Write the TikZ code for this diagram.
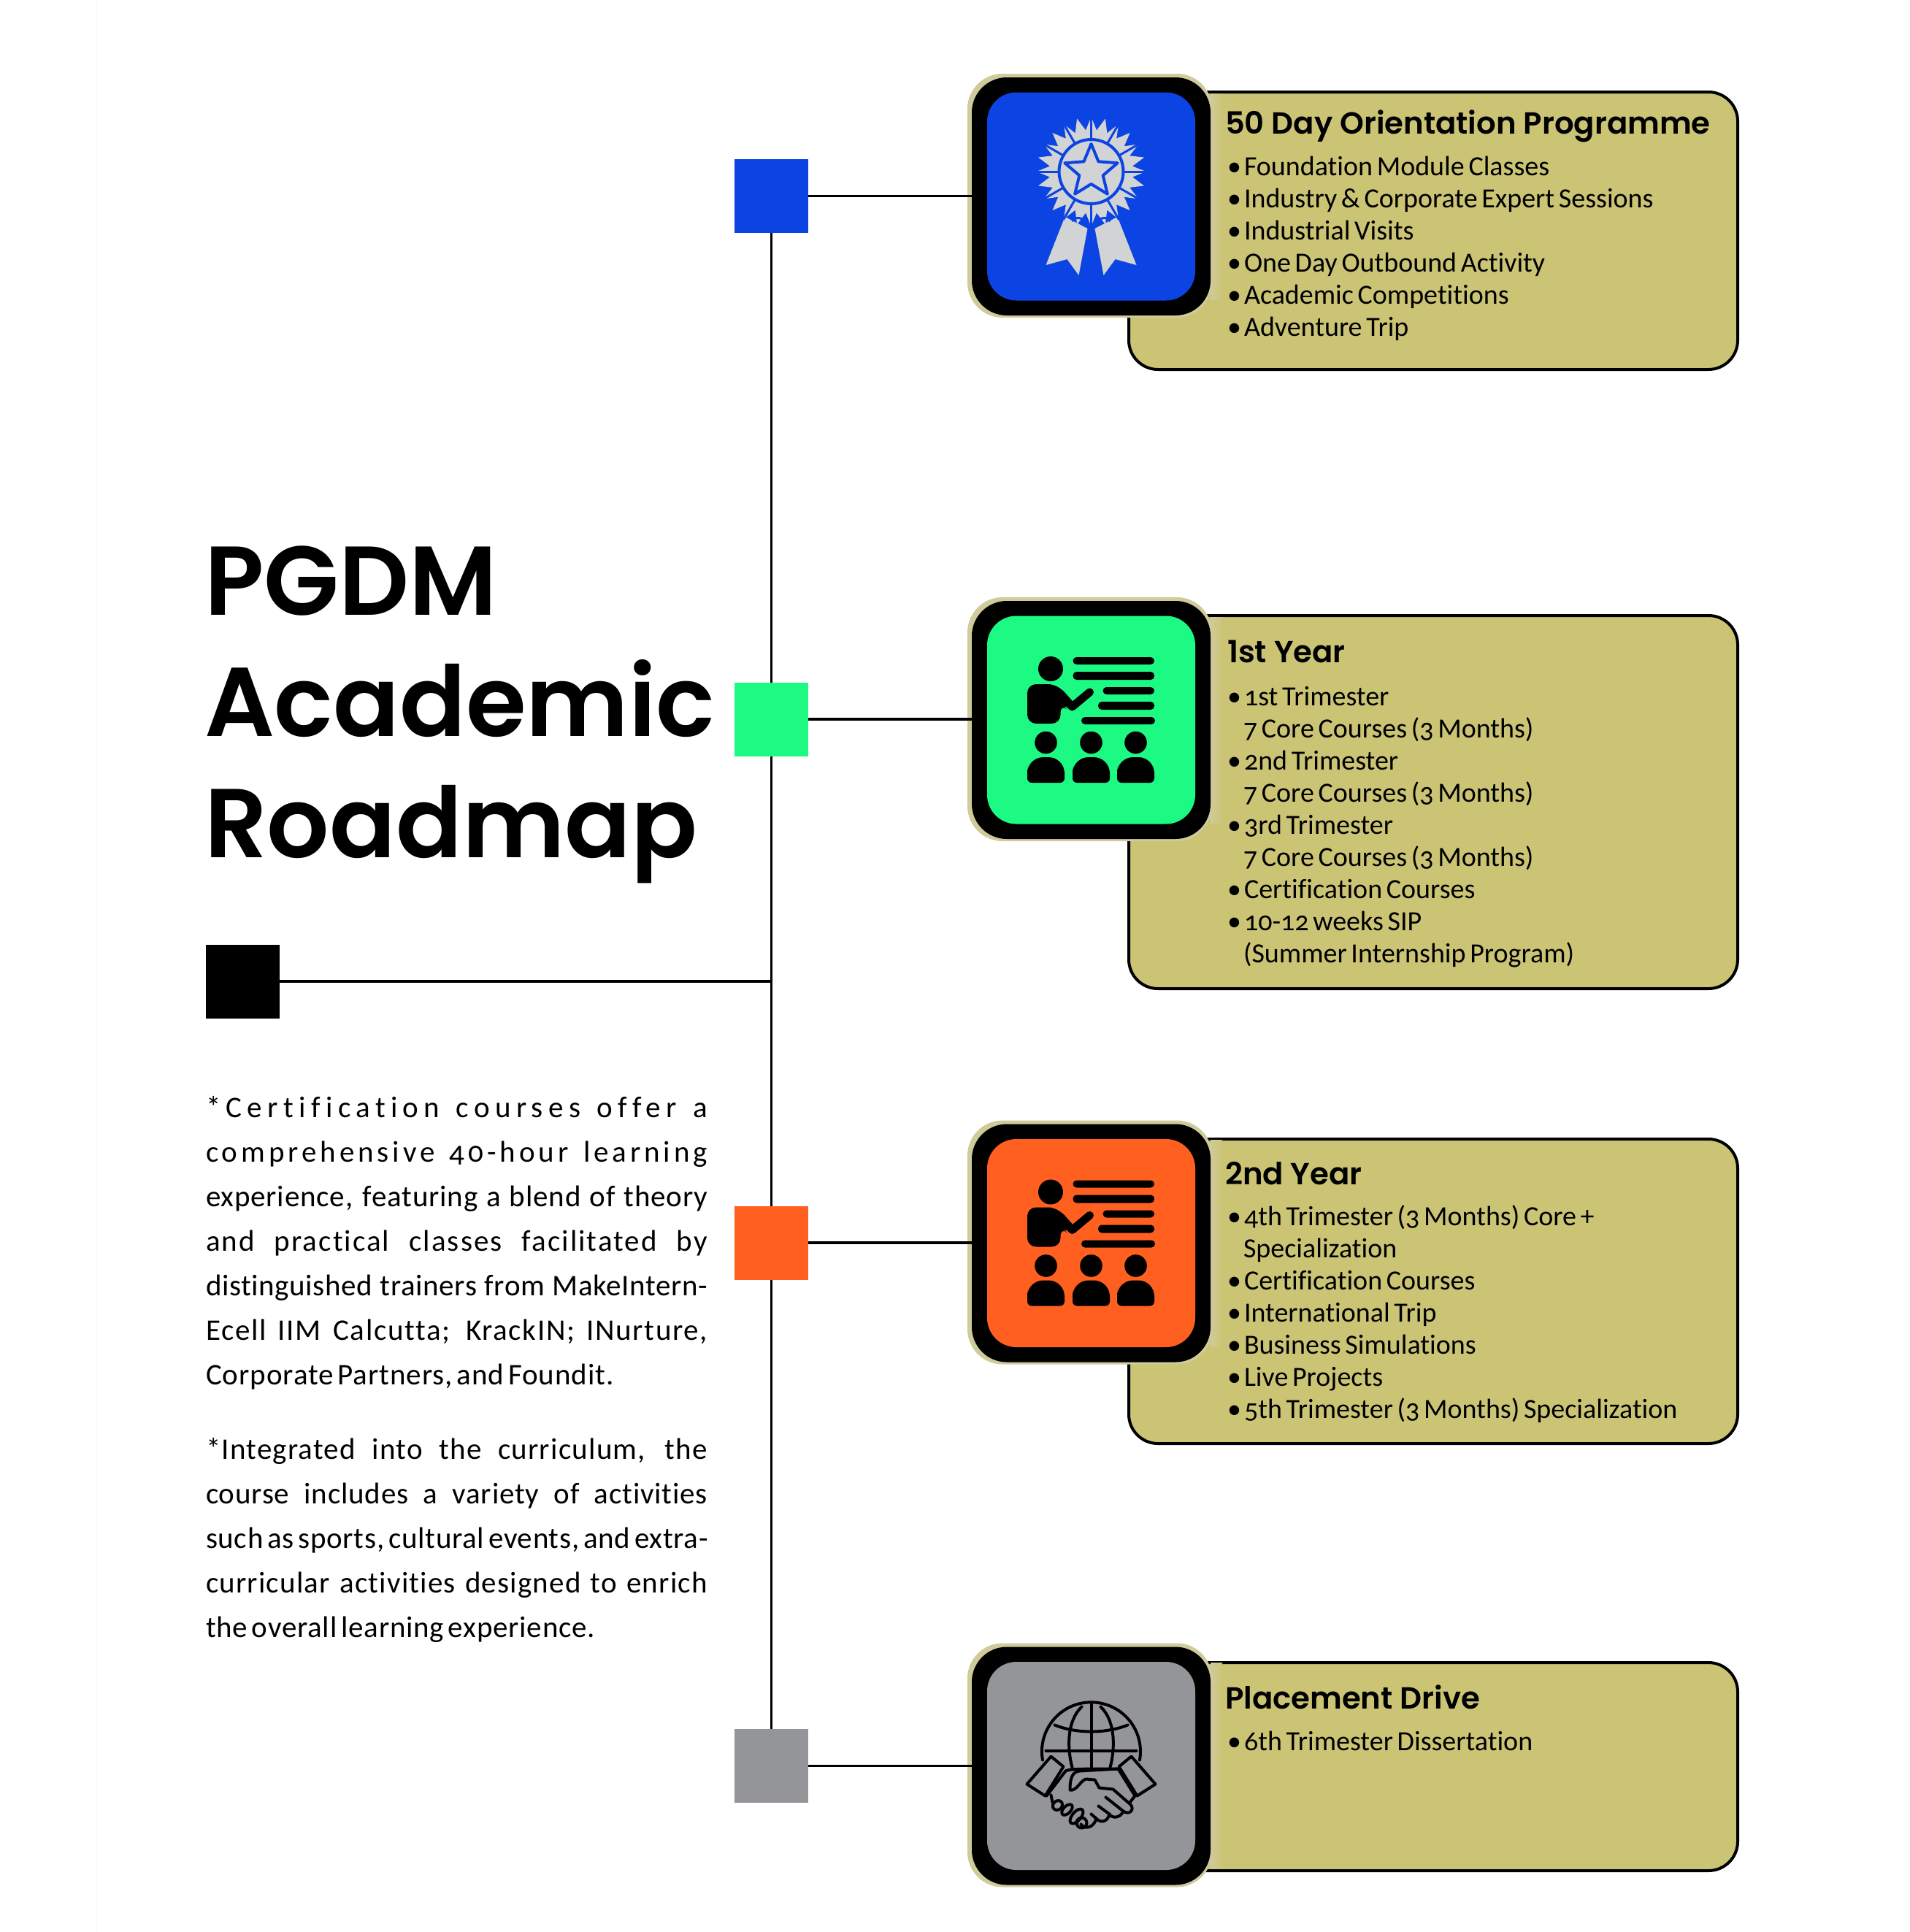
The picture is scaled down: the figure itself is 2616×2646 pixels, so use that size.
\documentclass[tikz,border=0pt]{standalone}
\usepackage{fontspec}
\usetikzlibrary{calc}
\setmainfont{Carlito}[Numbers=OldStyle,Ligatures=NoCommon]
\newfontfamily\titlef{Poppins SemiBold}
\newfontfamily\headf{Poppins SemiBold}
\newfontfamily\parf{Carlito}[Numbers=OldStyle,Ligatures=NoCommon]
\definecolor{tan}{HTML}{CBC475}
\definecolor{halo}{HTML}{CFCB9A}
\definecolor{cblue}{HTML}{0B44E3}
\definecolor{cgreen}{HTML}{1CFA84}
\definecolor{corange}{HTML}{FF5F1F}
\definecolor{cgrey}{HTML}{939598}
\definecolor{rib}{HTML}{D1D3D4}
\newlength{\parw}\setlength{\parw}{343.5pt}
\newcommand{\jl}[2]{\leavevmode\strut\hbox to \parw{\addfontfeature{LetterSpace=#1}\spaceskip=0.14em plus 1fil\relax #2}\\}
\newcommand{\lastl}[2]{\leavevmode\strut\hbox{\addfontfeature{LetterSpace=#1}\spaceskip=0.14em\relax #2}}
\newcommand{\itm}[1]{\strut\makebox[11.5pt][l]{•}\spaceskip=0.15em\relax #1\\}
\newcommand{\ind}[1]{\strut\hspace*{11pt}\spaceskip=0.15em\relax #1\\}
\tikzset{
 x=0.5pt,y=-0.5pt,
 marker/.style={minimum size=50.5pt,inner sep=0,outer sep=0,fill=#1},
 link/.style={draw=black,line width=1.8pt},
 card/.style={draw=black,line width=2pt,fill=tan,rounded corners=20pt},
 bodytext/.style={anchor=north west,inner sep=0,outer sep=0,align=left,text width=345pt,
   font=\fontsize{19pt}{22pt}\selectfont},
 headtext/.style={anchor=base west,inner sep=0,outer sep=0,font=\headf\fontsize{20.9pt}{26pt}\selectfont},
 partext/.style={anchor=north west,inner sep=0,outer sep=0,align=left,text width=343.5pt,
   font=\parf\fontsize{20.5pt}{30.5pt}\selectfont},
 teacher/.pic={
  \fill[black] (-55.5,-70) circle (17);
  \foreach \xa/\ya/\xb/\yb in {-25/-86/86.5/-76, -25/-66/86.5/-55, 16/-45/86.5/-35, 9.5/-25/86.5/-14, -13.5/-4/87.5/6}
    \fill[black,rounded corners=2.5pt] (\xa,\ya) rectangle (\xb,\yb);
  \fill[black,rounded corners=6pt] (-87.5,5) -- (-87.5,-49) -- (-47,-49) -- (-30,-30) -- (-30,-12) -- (-42,-22) -- (-42,5) -- cycle;
  \draw[black,line width=5.5pt,line cap=round,line join=round] (-42,-36) -- (-26,-18) -- (-2,-38);
  \foreach \dx in {-62,0,61}{
    \fill[black] (\dx,31) circle (15.3);
    \fill[black] ({\dx-25.5},86) [rounded corners=3pt] -- ({\dx-25.5},69) [rounded corners=11pt] -- ({\dx-25.5},51) -- ({\dx+25.5},51) [rounded corners=3pt] -- ({\dx+25.5},86) -- cycle;
  }
 },
 rosette/.pic={
  \begin{scope}[yshift=17pt]
  \fill[rib] (-36,62) -- (-5,78) -- (-17,142) -- (-33,120) -- (-62,128) -- cycle;
  \fill[rib] (36,62) -- (5,78) -- (17,142) -- (33,120) -- (62,128) -- cycle;
  \fill[rib] plot[samples at={0,...,48}] ({(mod(\x,2)==0?75:57)*cos(\x*7.5)},{(mod(\x,2)==0?75:57)*sin(\x*7.5)}) -- cycle;
  \foreach \a in {0,30,...,330} \draw[cblue,line width=1.5pt] (\a:44) -- (\a:76);
  \draw[cblue,line width=2pt,fill=rib] (0,0) circle (44);
  \draw[cblue,line width=2pt,fill=rib,line join=round] plot[samples at={0,...,10}] ({(mod(\x,2)==0?38:17)*cos(-90+\x*36)},{(mod(\x,2)==0?38:17)*sin(-90+\x*36)}) -- cycle;
  \draw[cblue,line width=1.5pt] (-26,68) .. controls (-18,58) and (-8,66) .. (0,78) .. controls (8,66) and (18,58) .. (26,68);
  \end{scope}
 },
 shake/.pic={
  \begin{scope}[draw=black,line width=2pt,line cap=round,line join=round]
   \draw (-66.5,-8) arc[start angle=170,end angle=370,radius=67.5] ;
   \draw (-62,-21) -- (62,-21);
   \draw (0,-86) -- (0,2);
   \draw (-13,-81) .. controls (-35,-60) and (-32,-20) .. (-26,2);
   \draw (13,-81) .. controls (35,-60) and (32,-20) .. (26,2);
   \draw (-50,-56) .. controls (-20,-44) and (20,-44) .. (50,-56);
   \draw (-88,25) -- (-55,-13) -- (-38,1) -- (-63,41) -- cycle;
   \draw (88,25) -- (55,-13) -- (38,1) -- (63,41) -- cycle;
   \draw (-35,7) .. controls (-30,4) and (-15,4) .. (37,4);
   \draw (-61,41) -- (-35,7);
   \draw (60,41) -- (37,4);
   \draw (37,4) -- (-16,7) .. controls (-25,8) and (-29,15) .. (-29,33) .. controls (-20,35) and (-15,20) .. (-7,18) -- (5,19) -- (11,30) -- (30,32) -- (54,53) .. controls (60,60) and (52,68) .. (44,62) -- (20,43);
   \draw (44,62) .. controls (40,72) and (28,72) .. (25,66) -- (10,55);
   \draw (25,66) .. controls (22,78) and (12,78) .. (7,72) -- (0,66);
   \draw (7,72) .. controls (4,84) and (-8,88) .. (-14,80);
   \draw[rotate around={40:(-46,54)}] (-46,54) ellipse (7 and 6);
   \draw[rotate around={45:(-33,60)}] (-33,60) ellipse (9 and 5);
   \draw[rotate around={50:(-20,69)}] (-20,69) ellipse (12 and 6);
   \draw (-13,78) circle (7);
   \draw (-55,40) -- (-53,50);
   \draw (60,41) -- (53,50);
  \end{scope}
 },
}
\newcommand{\iconbox}[4]{% name, y centre, colour, pic
  \shade[left color=halo,right color=tan] (1658,{#2-141}) rectangle (1674,{#2+141});
  \fill[halo,rounded corners=24pt] (1325,{#2-168}) rectangle (1660,{#2+166});
  \fill[black,rounded corners=24pt] (1331,{#2-163}) rectangle (1658,{#2+163});
  \node[minimum width=163.5pt,minimum height=163pt,inner sep=0,outer sep=0,fill=none] (#1) at (1494.5,#2) {};
  \fill[#3,rounded corners=20pt] (1352,{#2-142.5}) rectangle (1637,{#2+142.5});
  \pic at (1494.5,#2) {#4};
}
\begin{document}
\begin{tikzpicture}
\useasboundingbox (0,0) rectangle (2616,2646);
\fill[white] (0,0) rectangle (2616,2646);
\draw[black!4,line width=0.5pt] (132,0) -- (132,2646);
% cards
\path[card] (1546,126) rectangle (2380,506);
\path[card] (1546,843) rectangle (2380,1354);
\path[card] (1546,1560) rectangle (2380,1977);
\path[card] (1546,2277) rectangle (2380,2562);
% markers
\node[marker=cblue] (m1) at (1056.5,268.5) {};
\node[marker=cgreen] (m2) at (1056.5,985) {};
\node[marker=corange] (m3) at (1056.5,1702) {};
\node[marker=cgrey] (m4) at (1056.5,2418.5) {};
\node[marker=black] (m0) at (332.5,1344) {};
\coordinate (junction) at (m1 |- m0);
\draw[link] (m1) -- (m2);
\draw[link] (m2) -- (m3);
\draw[link] (m3) -- (m4);
\draw[link] (m0) -- (junction);
% icons
\iconbox{i1}{269}{cblue}{rosette}
\iconbox{i2}{986}{cgreen}{teacher}
\iconbox{i3}{1702.5}{corange}{teacher}
\iconbox{i4}{2418.5}{cgrey}{shake}
\draw[link] (m1) -- (m1 -| i1.west);
\draw[link] (m2) -- (m2 -| i2.west);
\draw[link] (m3) -- (m3 -| i3.west);
\draw[link] (m4) -- (m4 -| i4.west);
% title
\node[anchor=north west,inner sep=0,outer sep=0,align=left,font=\titlef\fontsize{67pt}{83pt}\selectfont] (title) at (280,726) {\strut PGDM\\\strut Academic\\\strut Roadmap};
% headings
\node[headtext] (h1) at (1678,183) {50 Day Orientation Programme};
\node[headtext] (h2) at (1681,907) {1st Year};
\node[headtext] (h3) at (1678,1622) {2nd Year};
\node[headtext] (h4) at (1678,2340) {Placement Drive};
% bodies
\node[bodytext] (b1) at (1681,210) {\itm{Foundation Module Classes}\itm{Industry \& Corporate Expert Sessions}\itm{Industrial Visits}\itm{One Day Outbound Activity}\itm{Academic Competitions}\itm{Adventure Trip}};
\node[bodytext] (b2) at (1681,936) {\itm{1st Trimester}\ind{7 Core Courses (3 Months)}\itm{2nd Trimester}\ind{7 Core Courses (3 Months)}\itm{3rd Trimester}\ind{7 Core Courses (3 Months)}\itm{Certification Courses}\itm{10-12 weeks SIP}\ind{(Summer Internship Program)}};
\node[bodytext] (b3) at (1681,1648) {\itm{4th Trimester (3 Months) Core +}\ind{Specialization}\itm{Certification Courses}\itm{International Trip}\itm{Business Simulations}\itm{Live Projects}\itm{5th Trimester (3 Months) Specialization}};
\node[bodytext] (b4) at (1681,2367) {\itm{6th Trimester Dissertation}};
% paragraphs
\node[partext] (p1) at (282,1488) {%
\jl{18}{*Certification courses offer a}%
\jl{12}{comprehensive 40-hour learning}%
\jl{2}{experience, featuring a blend of theory}%
\jl{5}{and practical classes facilitated by}%
\jl{1.5}{distinguished trainers from MakeIntern-}%
\jl{4}{Ecell IIM Calcutta; KrackIN; INurture,}%
\lastl{2.3}{Corporate Partners, and Foundit.}};
\node[partext] (p2) at (282,1956) {%
\jl{3}{*Integrated into the curriculum, the}%
\jl{2}{course includes a variety of activities}%
\jl{1.8}{such as sports, cultural events, and extra-}%
\jl{3}{curricular activities designed to enrich}%
\lastl{1.9}{the overall learning experience.}};
\end{tikzpicture}
\end{document}
